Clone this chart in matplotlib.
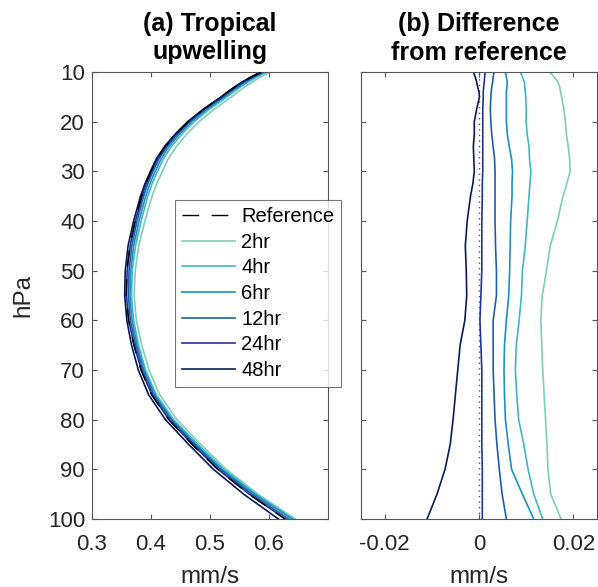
import matplotlib
matplotlib.use('Agg')
import matplotlib.pyplot as plt
import numpy as np

plt.rcParams['font.family'] = ['Liberation Sans', 'DejaVu Sans']

# pressure levels (hPa)
p = np.array([10, 11, 12, 13, 14, 15, 17.5, 20, 22.5, 25, 27.5, 30, 32.5, 35,
              40, 45, 50, 55, 60, 65, 70, 75, 80, 85, 90, 95, 100])

# reference upwelling (mm/s)
ref = np.array([0.587, 0.570, 0.555, 0.542, 0.530, 0.519, 0.489, 0.463, 0.442, 0.424, 0.410, 0.400, 0.391, 0.384,
                0.373, 0.364, 0.359, 0.358, 0.362, 0.371, 0.383, 0.401, 0.430, 0.470, 0.513, 0.566, 0.627])

# difference from reference (mm/s)
d2 = np.array([0.0150, 0.0159, 0.0167, 0.0171, 0.0173, 0.0175, 0.0180, 0.0183, 0.0185, 0.0189, 0.0192, 0.0193, 0.0186, 0.0178,
               0.0166, 0.0151, 0.0143, 0.0134, 0.0131, 0.0133, 0.0135, 0.0138, 0.0141, 0.0144, 0.0146, 0.0152, 0.0174])
d4 = np.array([0.0088, 0.0092, 0.0096, 0.0097, 0.0098, 0.0099, 0.0100, 0.0100, 0.0102, 0.0106, 0.0107, 0.0110, 0.0108, 0.0106,
               0.0102, 0.0098, 0.0092, 0.0090, 0.0085, 0.0079, 0.0077, 0.0080, 0.0084, 0.0095, 0.0104, 0.0116, 0.0135])
d6 = np.array([0.0056, 0.0058, 0.0060, 0.0059, 0.0058, 0.0058, 0.0058, 0.0058, 0.0060, 0.0064, 0.0069, 0.0071, 0.0070, 0.0070,
               0.0067, 0.0066, 0.0065, 0.0063, 0.0058, 0.0054, 0.0053, 0.0054, 0.0056, 0.0062, 0.0069, 0.0092, 0.0116])
d12 = np.array([0.0032, 0.0030, 0.0029, 0.0027, 0.0026, 0.0025, 0.0024, 0.0025, 0.0027, 0.0030, 0.0033, 0.0034, 0.0034, 0.0034,
                0.0034, 0.0035, 0.0037, 0.0037, 0.0030, 0.0030, 0.0030, 0.0032, 0.0034, 0.0038, 0.0043, 0.0049, 0.0058])
d24 = np.array([0.0013, 0.0012, 0.0011, 0.0010, 0.0009, 0.0009, 0.0008, 0.0008, 0.0008, 0.0008, 0.0008, 0.0008, 0.0007, 0.0007,
                0.0006, 0.0006, 0.0006, 0.0004, 0.0002, 0.0004, 0.0006, 0.0006, 0.0006, 0.0006, 0.0007, 0.0007, 0.0007])
d48 = np.array([-0.0012, -0.0008, -0.0005, -0.0003, 0.0000, 0.0001, -0.0005, -0.0010, -0.0010, -0.0012, -0.0011, -0.0010, -0.0013, -0.0018,
                -0.0025, -0.0029, -0.0027, -0.0026, -0.0030, -0.0040, -0.0045, -0.0050, -0.0055, -0.0061, -0.0072, -0.0089, -0.0110])

labels = ['2hr', '4hr', '6hr', '12hr', '24hr', '48hr']
diffs = [d2, d4, d6, d12, d24, d48]
colors = ['#7fcdbb', '#41b6c4', '#1d91c0', '#225ea8', '#253494', '#081d58']

W, H = 598, 587
fig = plt.figure(figsize=(W/100, H/100), dpi=100)
ax1 = fig.add_axes([92/W, 1-519/H, 236/W, 447/H])
ax2 = fig.add_axes([361/W, 1-519/H, 236/W, 447/H])

lw = 1.2
for d, c, l in zip(diffs, colors, labels):
    ax1.plot(ref + d, p, color=c, lw=lw, label=l, zorder=2)
    ax2.plot(d, p, color=c, lw=lw, zorder=2)
ax1.plot(ref, p, color='k', lw=1.0, ls=(0, (12, 9)), label='Reference', zorder=3)
ax2.axvline(0, color='0.35', lw=1.0, ls=(0, (1, 3)), zorder=1)

for ax in (ax1, ax2):
    ax.set_ylim(100, 10)
    ax.set_yticks(np.arange(10, 101, 10))
    ax.tick_params(direction='in', top=True, right=True, length=3.5, width=0.8,
                   color='#555555', labelsize=16, labelcolor='#262626', pad=5)
    ax.tick_params(axis='x', pad=11)
    for s in ax.spines.values():
        s.set_color('#555555')
        s.set_linewidth(0.8)
    ax.set_xlabel('mm/s', fontsize=17.5, color='#262626', labelpad=8)

ax1.set_xlim(0.3, 0.7)
ax1.set_xticks([0.3, 0.4, 0.5, 0.6])
ax1.set_xticklabels(['0.3', '0.4', '0.5', '0.6'])
ax1.set_ylabel('hPa', fontsize=17.5, color='#262626', labelpad=10)
ax1.set_title('(a) Tropical\nupwelling', fontsize=18, fontweight='bold', pad=9, linespacing=1.25)

ax2.set_xlim(-0.025, 0.025)
ax2.set_xticks([-0.02, 0, 0.02])
ax2.set_xticklabels(['-0.02', '0', '0.02'])
ax2.tick_params(labelleft=False)
ax2.set_title('(b) Difference\nfrom reference', fontsize=18, fontweight='bold', pad=9, linespacing=1.25)

h, l = ax1.get_legend_handles_labels()
order = [6, 0, 1, 2, 3, 4, 5]
leg = ax1.legend([h[i] for i in order], [l[i] for i in order],
                 loc='upper left', bbox_to_anchor=(175/W, 1-200/H), bbox_transform=fig.transFigure,
                 fontsize=14.5, frameon=True, fancybox=False, edgecolor='#555555',
                 handlelength=2.64, handletextpad=0.3, labelspacing=0.33, borderpad=0.35,
                 borderaxespad=0)
leg.get_frame().set_linewidth(0.8)
leg.set_zorder(5)

fig.savefig('out.png', dpi=100)
